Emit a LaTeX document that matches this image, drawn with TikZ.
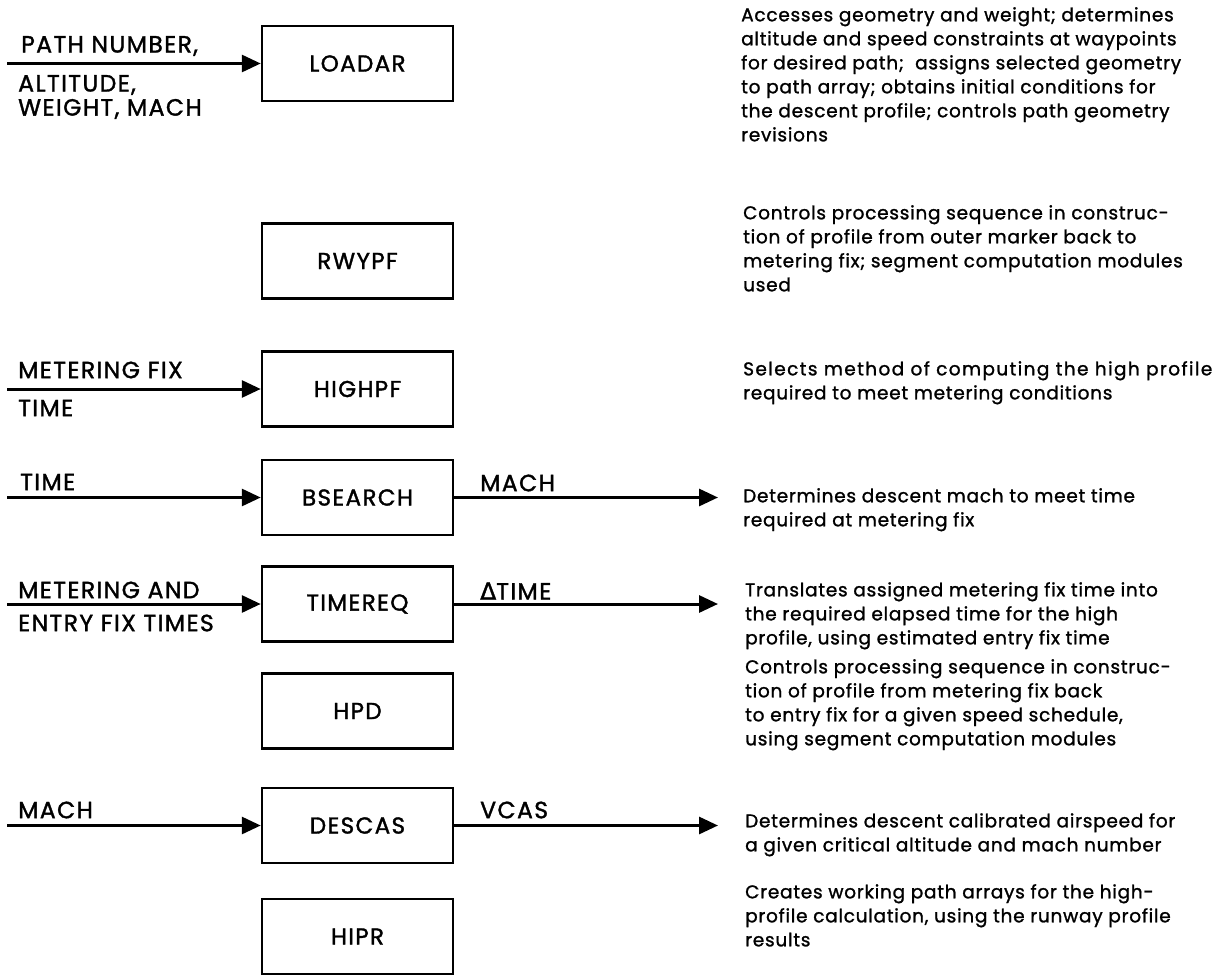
\documentclass[tikz,border=0pt]{standalone}
\usepackage{fontspec}
\setmainfont{Poppins}[FakeBold=1.2]
\newfontfamily\capsfont{Poppins}[FakeBold=1.5, LetterSpace=6]
\newfontfamily\notefont{Poppins}[FakeBold=1.3, LetterSpace=4]
\newfontfamily\widenotefont{Poppins}[FakeBold=1.3, LetterSpace=7.5]
\newfontfamily\symfont{DejaVu Sans}[FakeBold=1.5]
\usetikzlibrary{arrows.meta}

\tikzset{
  module/.style={draw, line width=2.5pt, minimum width=191pt, minimum height=75pt,
    inner sep=0pt, font=\capsfont\fontsize{23}{24}\selectfont},
  flow/.style={line width=3pt, -{Triangle[length=19pt,width=17pt]}},
  signal/.style={anchor=west, inner sep=0pt, font=\capsfont\fontsize{23.5}{24}\selectfont},
  note/.style={anchor=north west, inner sep=0pt, align=left,
    font=\notefont\fontsize{18.5}{24}\selectfont}
}

\begin{document}
\begin{tikzpicture}[x=1pt, y=-1pt]
\useasboundingbox (0,0) rectangle (1225,976);

% module boxes
\node[module] (loadar)  at (357.5, 63.5) {LOADAR};
\node[module] (rwypf)   at (357.5, 261)  {RWYPF};
\node[module] (highpf)  at (357.5, 389)  {HIGHPF};
\node[module] (bsearch) at (357.5, 497.5){BSEARCH};
\node[module] (timereq) at (357.5, 604)  {TIMEREQ};
\node[module] (hpd)     at (357.5, 711)  {HPD};
\node[module] (descas)  at (357.5, 825.5){DESCAS};
\node[module] (hipr)    at (357.5, 936.5){HIPR};

% input and output ends
\coordinate (inLoadar)  at (7, 63.5);
\coordinate (inHighpf)  at (7, 389);
\coordinate (inBsearch) at (7, 497.5);
\coordinate (inTimereq) at (7, 604);
\coordinate (inDescas)  at (7, 825.5);
\coordinate (outBsearch) at (718, 497.5);
\coordinate (outTimereq) at (718, 604);
\coordinate (outDescas)  at (718, 825.5);

\draw[flow] (inLoadar)  -- (loadar.west);
\draw[flow] (inHighpf)  -- (highpf.west);
\draw[flow] (inBsearch) -- (bsearch.west);
\draw[flow] (inTimereq) -- (timereq.west);
\draw[flow] (inDescas)  -- (descas.west);
\draw[flow] (bsearch.east) -- (outBsearch);
\draw[flow] (timereq.east) -- (outTimereq);
\draw[flow] (descas.east)  -- (outDescas);

% signal labels
\node[signal] (lPath)  at (21, 46)  {PATH NUMBER,};
\node[signal] (lAlt)   at (18, 85)  {ALTITUDE,};
\node[signal] (lWt)    at (18, 109) {WEIGHT, MACH};
\node[signal] (lMfix)  at (18, 370) {METERING FIX};
\node[signal] (lTime1) at (18, 408) {TIME};
\node[signal] (lTime2) at (20, 482) {TIME};
\node[signal] (lMand)  at (18, 590) {METERING AND};
\node[signal] (lEntry) at (18, 623) {ENTRY FIX TIMES};
\node[signal] (lMach1) at (18, 810) {MACH};
\node[signal] (lMach2) at (480, 483) {MACH};
\node[signal] (lDt)    at (480, 591) {{\symfont Δ}TIME};
\node[signal] (lVcas)  at (480, 810) {VCAS};

% module descriptions
\node[note] (dLoadar) at (741, 7) {Accesses geometry and weight; determines\\
altitude and speed constraints at waypoints\\
for desired path;\ \ assigns selected geometry\\
to path array; obtains initial conditions for\\
the descent profile; controls path geometry\\
revisions};
\node[note] (dRwypf) at (743, 205) {Controls processing sequence in construc-\\
tion of profile from outer marker back to\\
metering fix; segment computation modules\\
used};
\node[note] (dHighpf) at (743, 361) {{\widenotefont Selects method of computing the high profile}\\
required to meet metering conditions};
\node[note] (dBsearch) at (743, 488) {Determines descent mach to meet time\\
required at metering fix};
\node[note] (dTimereq) at (745, 582) {Translates assigned metering fix time into\\
the required elapsed time for the high\\
profile, using estimated entry fix time};
\node[note] (dHpd) at (745, 659) {Controls processing sequence in construc-\\
tion of profile from metering fix back\\
to entry fix for a given speed schedule,\\
using segment computation modules};
\node[note] (dDescas) at (745, 813) {Determines descent calibrated airspeed for\\
a given critical altitude and mach number};
\node[note] (dHipr) at (745, 884) {Creates working path arrays for the high-\\
profile calculation, using the runway profile\\
results};
\end{tikzpicture}
\end{document}
